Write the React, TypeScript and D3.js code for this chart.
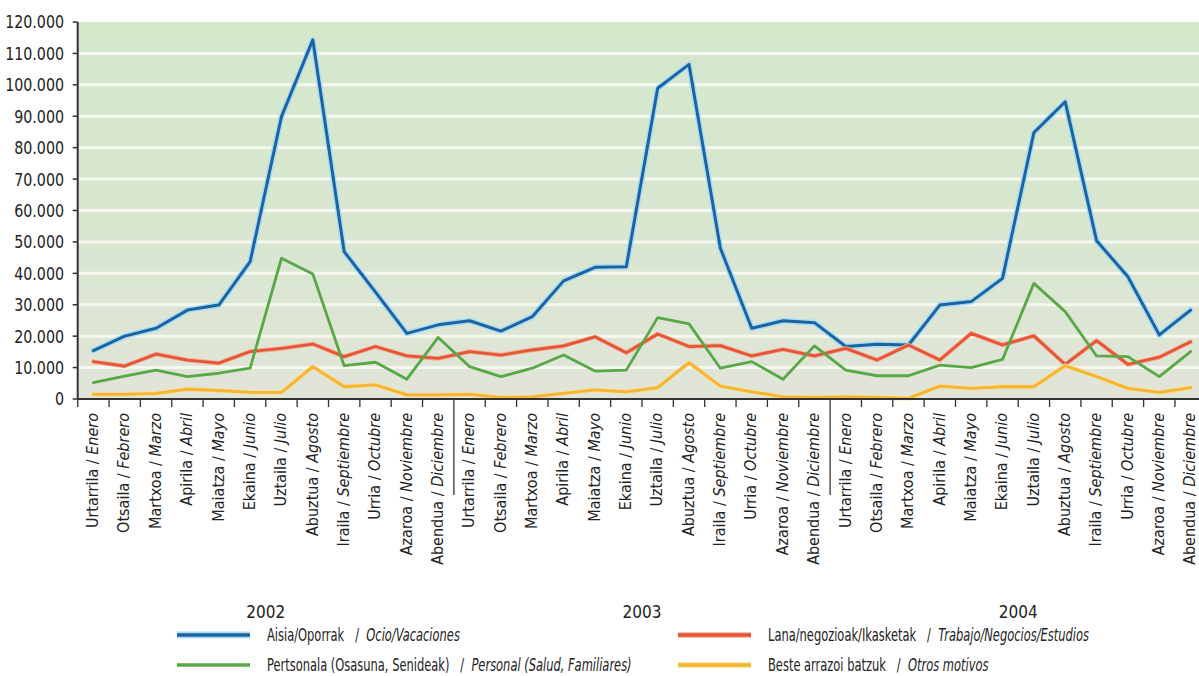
import * as d3 from "d3";

// months: Basque / Spanish
const monthsEu = ["Urtarrila", "Otsaila", "Martxoa", "Apirila", "Maiatza", "Ekaina", "Uztaila", "Abuztua", "Iraila", "Urria", "Azaroa", "Abendua"];
const monthsEs = ["Enero", "Febrero", "Marzo", "Abril", "Mayo", "Junio", "Julio", "Agosto", "Septiembre", "Octubre", "Noviembre", "Diciembre"];
const years = ["2002", "2003", "2004"];

// values, Jan 2002 .. Dec 2004
const ocio = [
  15400, 20000, 22500, 28300, 29900, 43700, 89900, 114300, 46900, 34000, 20900, 23600,
  24900, 21600, 26200, 37600, 41900, 42100, 98900, 106500, 48000, 22500, 24900, 24300,
  16700, 17400, 17200, 29900, 31000, 38400, 84800, 94600, 50400, 38900, 20400, 28300,
];
const trabajo = [
  11900, 10500, 14300, 12400, 11400, 15100, 16100, 17500, 13500, 16700, 13700, 12900,
  15100, 14000, 15600, 16900, 19800, 14700, 20700, 16700, 17000, 13700, 15800, 13700,
  16100, 12400, 17200, 12400, 20900, 17200, 20100, 11000, 18600, 11000, 13300, 18200,
];
const personal = [
  5200, 7300, 9200, 7100, 8200, 9800, 44800, 39800, 10600, 11700, 6300, 19600,
  10300, 7100, 9800, 14000, 8900, 9200, 25900, 23900, 9800, 11900, 6300, 16900,
  9200, 7400, 7400, 10800, 10000, 12600, 36800, 27800, 13700, 13500, 7100, 15100,
];
const otros = [
  1500, 1500, 1800, 3100, 2700, 2100, 2100, 10300, 3900, 4500, 1300, 1300,
  1500, 500, 700, 1800, 2900, 2300, 3600, 11600, 4100, 2300, 700, 500,
  700, 500, 200, 4100, 3400, 3900, 3900, 10600, 7100, 3400, 2100, 3600,
];

const seriesNames = [
  ["Aisia/Oporrak", "Ocio/Vacaciones"],
  ["Lana/negozioak/Ikasketak", "Trabajo/Negocios/Estudios"],
  ["Pertsonala (Osasuna, Senideak)", "Personal (Salud, Familiares)"],
  ["Beste arrazoi batzuk", "Otros motivos"],
];

const W = 1199;
const H = 676;
const FONT = "'Liberation Sans Narrow', 'DejaVu Sans Condensed', 'Roboto', sans-serif";

export default function App() {
  const left = 77.7;
  const step = 31.35;
  const top = 22;
  const bottom = 399;
  const n = ocio.length;

  const x = d3
    .scaleBand<number>()
    .domain(d3.range(n))
    .range([left, left + step * n]);
  const y = d3.scaleLinear().domain([0, 120000]).range([bottom, top]);
  const cx = (i: number) => (x(i) as number) + x.bandwidth() / 2;

  const line = d3
    .line<number>()
    .x((_, i) => cx(i))
    .y((d) => y(d));

  const yTicks = d3.range(0, 120001, 10000);
  const fmt = (v: number) => (v === 0 ? "0" : d3.format(",")(v).replace(/,/g, "."));

  const series = [
    { data: ocio, color: "#1f62a0", halo: "#a9def3", w: 3, hw: 6 },
    { data: trabajo, color: "#e5553a", halo: "#f4ae90", w: 2.8, hw: 4.5 },
    { data: personal, color: "#58a847", halo: null, w: 2.8, hw: 0 },
    { data: otros, color: "#f4b530", halo: "#f9dc98", w: 2.8, hw: 4.5 },
  ];

  const labels = d3.range(n).map((i) => ({
    eu: monthsEu[i % 12],
    es: monthsEs[i % 12],
  }));

  const legendPos = [
    { x: 177, y: 635 },
    { x: 678, y: 635 },
    { x: 177, y: 665 },
    { x: 678, y: 665 },
  ];

  return (
    <svg
      width={W}
      height={H}
      style={{ position: "absolute", left: 0, top: 0, background: "#fff" }}
      fontFamily={FONT}
    >
      <defs>
        <linearGradient id="bg" x1="0" y1="0" x2="0" y2="1">
          <stop offset="0" stopColor="#d4e8ca" />
          <stop offset="0.6" stopColor="#d9e6d1" />
          <stop offset="1" stopColor="#e1e5d8" />
        </linearGradient>
      </defs>

      {/* plot background */}
      <rect x={left} y={top} width={step * n} height={bottom - top} fill="url(#bg)" />
      {yTicks.slice(1, -1).map((t) => (
        <line key={t} x1={left} x2={left + step * n} y1={y(t)} y2={y(t)} stroke="#f6f8f0" strokeWidth={3} />
      ))}

      {/* lines */}
      {series.map((s, k) => (
        <g key={k} fill="none" strokeLinejoin="round" strokeLinecap="round">
          {s.halo && <path d={line(s.data) || ""} stroke={s.halo} strokeWidth={s.hw} />}
          <path d={line(s.data) || ""} stroke={s.color} strokeWidth={s.w} />
        </g>
      ))}

      {/* y axis */}
      <line x1={left} x2={left} y1={top} y2={bottom} stroke="#333" strokeWidth={2} />
      {yTicks.map((t) => (
        <g key={t}>
          <line x1={left - 5} x2={left} y1={y(t)} y2={y(t)} stroke="#333" strokeWidth={1.5} />
          <text
            transform={`translate(64,${y(t)}) scale(0.88,1)`}
            dy="0.36em"
            textAnchor="end"
            fontSize={18}
            fill="#222"
          >
            {fmt(t)}
          </text>
        </g>
      ))}

      {/* x axis */}
      <line x1={left} x2={left + step * n} y1={bottom} y2={bottom} stroke="#333" strokeWidth={2} />
      {d3.range(n + 1).map((i) => {
        const xx = left + step * i;
        const sep = i % 12 === 0 && i > 0 && i < n;
        return <line key={i} x1={xx} x2={xx} y1={bottom} y2={bottom + (sep ? 96 : 8)} stroke="#333" strokeWidth={1.3} />;
      })}
      {labels.map((l, i) => (
        <text
          key={i}
          transform={`translate(${cx(i) - 1},${bottom + 14}) rotate(-90)`}
          dy="0.36em"
          textAnchor="end"
          fontSize={16}
          fill="#222"
        >
          {l.eu} / <tspan fontStyle="italic">{l.es}</tspan>
        </text>
      ))}
      {years.map((yr, k) => (
        <text key={yr} x={left + step * (12 * k + 6)} y={612} dy="0.36em" textAnchor="middle" fontSize={17} fill="#222">
          {yr}
        </text>
      ))}

      {/* legend */}
      {series.map((s, k) => {
        const p = legendPos[k];
        return (
          <g key={k}>
            {s.halo && <line x1={p.x} x2={p.x + 73} y1={p.y} y2={p.y} stroke={s.halo} strokeWidth={s.hw + 1} />}
            <line x1={p.x} x2={p.x + 73} y1={p.y} y2={p.y} stroke={s.color} strokeWidth={s.w + 0.5} />
            <text
              transform={`translate(${p.x + 90},${p.y}) scale(0.75,1)`}
              dy="0.36em"
              fontSize={17}
              fill="#222"
              xmlSpace="preserve"
            >
              {seriesNames[k][0]}
              {"   /  "}
              <tspan fontStyle="italic">{seriesNames[k][1]}</tspan>
            </text>
          </g>
        );
      })}
    </svg>
  );
}
